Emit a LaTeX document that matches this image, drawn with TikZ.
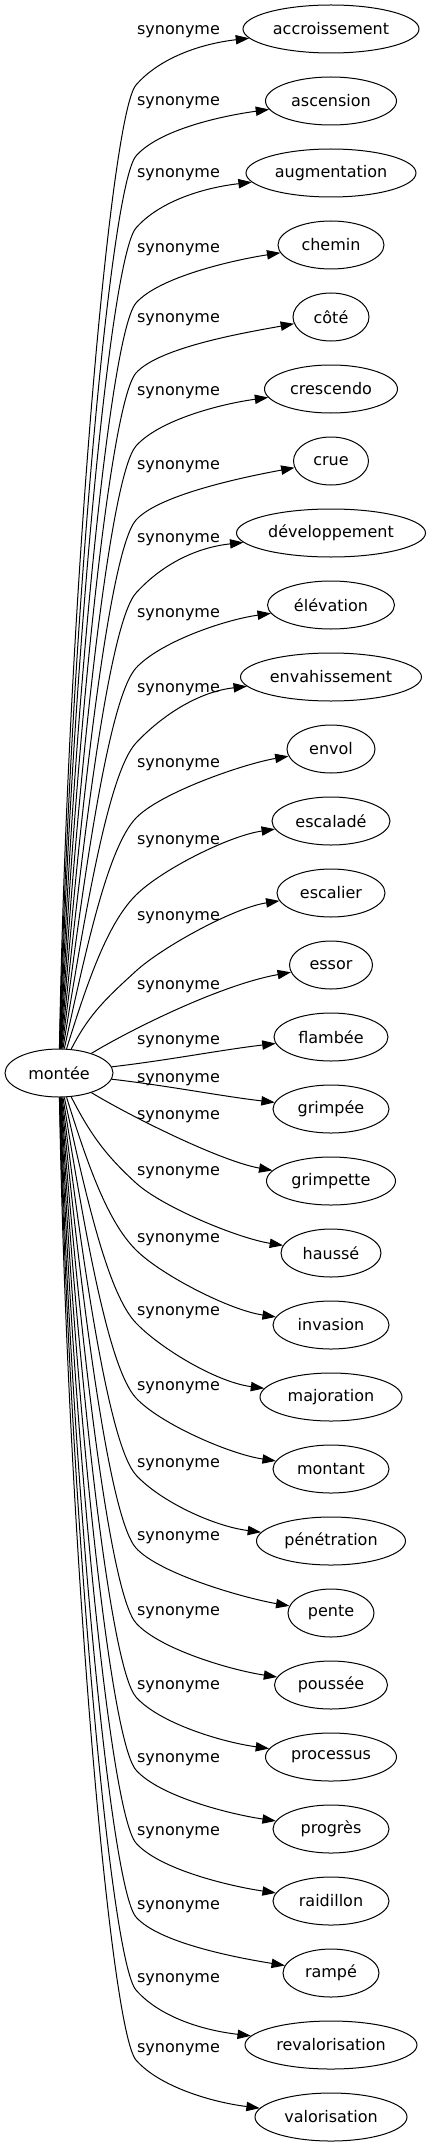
\documentclass[tikz,border=0pt]{standalone}
\usepackage{fontspec}
\setmainfont{DejaVu Sans}
\usepackage{tikz}
\usetikzlibrary{shapes.geometric, arrows.meta}
\tikzset{
    word/.style={draw, ellipse, line width=0.75pt, inner sep=0pt, minimum height=36pt, font=\fontsize{12pt}{14pt}\selectfont},
    rel/.style={font=\fontsize{12pt}{14pt}\selectfont},
    syn/.style={-{Triangle[length=10pt, width=7pt]}, line width=0.75pt}
}

\begin{document}
\begin{tikzpicture}[x=0.75pt, y=-0.75pt]

        \useasboundingbox (0,0) rectangle (431,2147);

        \node[word, minimum width=81pt] (montee) at (59,1073) {montée};

        \foreach \i/\w/\yl/\txt in {0/176/32/accroissement, 1/131/103/ascension, 2/170/175/augmentation,
            3/106/250/chemin, 4/76/320/côté, 5/133/393/crescendo, 6/75/467/crue, 7/189/540/développement,
            8/127/615/élévation, 9/181/690/envahissement, 10/88/765/envol, 11/118/842/escaladé,
            12/108/918/escalier, 13/83/987/essor, 14/114/1042/flambée, 15/116/1080/grimpée,
            16/129/1117/grimpette, 17/100/1173/haussé, 18/116/1240/invasion, 19/142/1313/majoration,
            20/116/1388/montant, 21/149/1465/pénétration, 22/86/1538/pente, 23/113/1613/poussée,
            24/131/1687/processus, 25/116/1760/progrès, 26/116/1833/raidillon, 27/96/1907/rampé,
            28/172/1980/revalorisation, 29/152/2050/valorisation}
        {
            \node[word, minimum width=\w*0.75pt] (t\i) at (331,29+72*\i) {\txt};
            \node[rel] (l\i) at (178.5,\yl) {synonyme};

            % long edges: up (or down) along montee, bend under the label, then to the word
            \pgfmathtruncatemacro{\far}{\i<13 || \i>16}
            \ifnum\far=1
                \pgfmathsetmacro{\s}{\i<15 ? 1 : -1}
                \pgfmathsetmacro{\yc}{29+72*\i}
                \pgfmathsetmacro{\ys}{1073-24*\s}
                \pgfmathsetmacro{\D}{\s*(\ys-\yc)}
                \pgfmathsetmacro{\ky}{\yl+(\s>0 ? 53 : 10)}
                \pgfmathsetmacro{\ang}{89-4800*(1/\D-1/1020)}
                \pgfmathsetmacro{\th}{49-1200*(1/\D-1/1020)}
                \pgfmathsetmacro{\ay}{\ys+0.45*(\ky-\ys)}
                \pgfmathsetmacro{\ax}{59+\s*(1073-\ay)/tan(\ang)}
                \pgfmathsetmacro{\bx}{136-40*cos(\th)}
                \pgfmathsetmacro{\by}{\ky+\s*40*sin(\th)}
                \pgfmathsetmacro{\cx}{136+35*cos(\th)}
                \pgfmathsetmacro{\cy}{\ky-\s*35*sin(\th)}
                \pgfmathsetmacro{\dx}{331-\w/2-43.7}
                \pgfmathsetmacro{\dy}{\yc+\s*14.9}
                \coordinate (k\i) at (136,\ky);
                \draw[syn] (montee) .. controls (\ax,\ay) and (\bx,\by) .. (k\i)
                    .. controls (\cx,\cy) and (\dx,\dy) .. (t\i);
            \fi
        }

        \draw[syn] (montee) .. controls (130,1030) and (220,985) .. (t13);
        \draw[syn] (montee) .. controls (170,1060) and (220,1050) .. (t14);
        \draw[syn] (montee) .. controls (170,1086) and (220,1096) .. (t15);
        \draw[syn] (montee) .. controls (130,1116) and (220,1161) .. (t16);

    \end{tikzpicture}
\end{document}
